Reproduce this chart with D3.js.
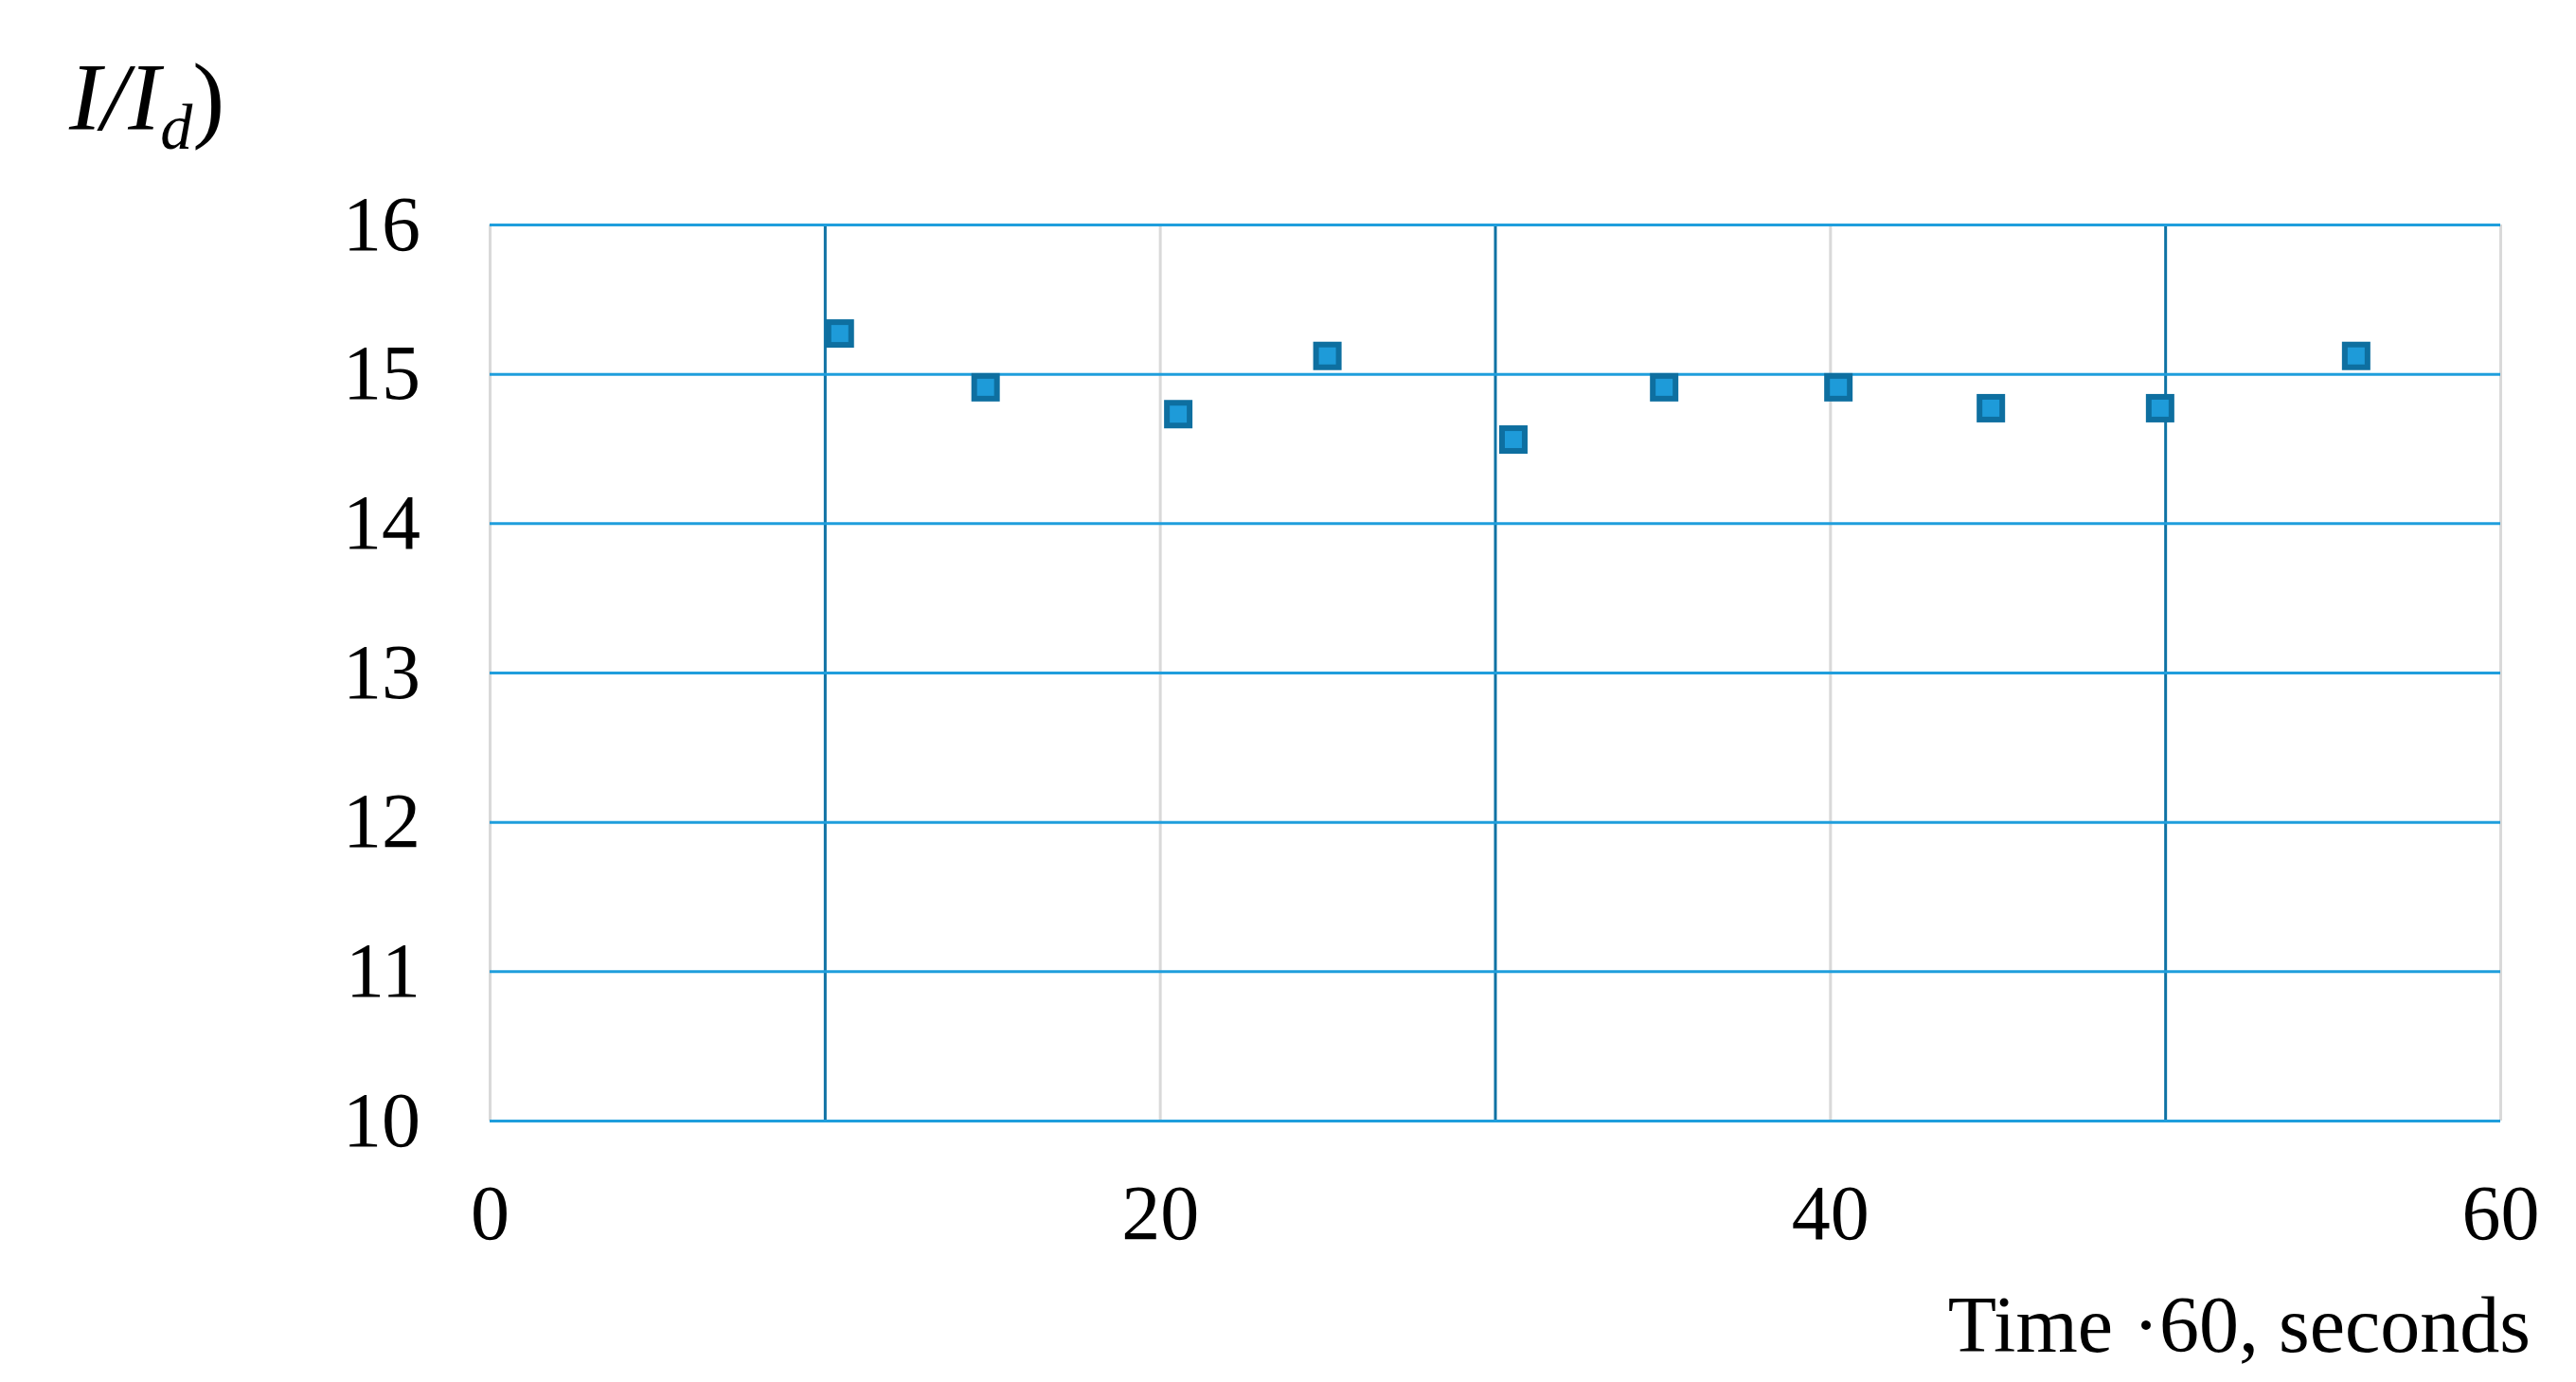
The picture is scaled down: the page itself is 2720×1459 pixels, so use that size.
<!DOCTYPE html>
<html>
<head>
<meta charset="utf-8">
<script src="https://cdn.jsdelivr.net/npm/d3@7"></script>
<style>
  body { margin: 0; background: #fff; }
  text { font-family: "Liberation Serif", "Times New Roman", serif; fill: #000; }
</style>
</head>
<body>
<div id="chart"></div>
<script>
// data
const timeValues = [10.45, 14.8, 20.55, 25.0, 30.55, 35.05, 40.25, 44.8, 49.85, 55.7];
const ratioValues = [15.27, 14.91, 14.73, 15.12, 14.56, 14.91, 14.91, 14.77, 14.77, 15.12];
const xTicks = [0, 20, 40, 60];
const xMinorLines = [10, 30, 50];
const yTicks = [10, 11, 12, 13, 14, 15, 16];
const xTitle = "Time \u00b760, seconds";

// chart dimensions
const width = 2720;
const height = 1459;
const marginLeft = 517;
const marginRight = 80;
const marginTop = 237;
const marginBottom = 276;
const markerSize = 24;

const points = timeValues.map((t, i) => ({ t: t, v: ratioValues[i] }));

const svg = d3.select("#chart").append("svg")
  .attr("width", width)
  .attr("height", height);

const x = d3.scaleLinear()
  .domain([0, 60])
  .range([marginLeft, width - marginRight]);

const y = d3.scaleLinear()
  .domain([10, 16])
  .range([height - marginBottom, marginTop]);

const plotH = y(10) - y(16);
const plotW = x(60) - x(0);

// minor vertical lines (dark blue)
svg.append("g")
  .attr("class", "xMinor")
  .attr("transform", `translate(0,${y(10)})`)
  .call(d3.axisBottom(x).tickValues(xMinorLines).tickSize(-plotH).tickFormat(""))
  .call(g => g.select(".domain").remove())
  .call(g => g.selectAll("line").attr("stroke", "#0E72A4").attr("stroke-width", 3));

// major vertical gridlines (grey)
svg.append("g")
  .attr("class", "xGrid")
  .attr("transform", `translate(0,${y(10)})`)
  .call(d3.axisBottom(x).tickValues(xTicks).tickSize(-plotH).tickFormat(""))
  .call(g => g.select(".domain").remove())
  .call(g => g.selectAll("line").attr("stroke", "#D9D9D9").attr("stroke-width", 3));

// horizontal gridlines (light blue)
svg.append("g")
  .attr("class", "yGrid")
  .attr("transform", `translate(${marginLeft},0)`)
  .call(d3.axisLeft(y).tickValues(yTicks).tickSize(-plotW).tickFormat(""))
  .call(g => g.select(".domain").remove())
  .call(g => g.selectAll("line").attr("stroke", "#1F9EDC").attr("stroke-width", 3));

// y axis labels
svg.append("g")
  .attr("class", "yAxis")
  .attr("transform", `translate(${marginLeft},0)`)
  .call(d3.axisLeft(y).tickValues(yTicks).tickFormat(d3.format("d")).tickSize(0).tickPadding(73))
  .call(g => g.select(".domain").remove())
  .call(g => g.selectAll("text")
    .attr("font-size", 82)
    .attr("font-family", "Liberation Serif")
    .attr("dy", "0.32em")
    .attr("fill", "#000"));

// x axis labels
svg.append("g")
  .attr("class", "xAxis")
  .attr("transform", `translate(0,${y(10)})`)
  .call(d3.axisBottom(x).tickValues(xTicks).tickFormat(d3.format("d")).tickSize(0))
  .call(g => g.select(".domain").remove())
  .call(g => g.selectAll("text")
    .attr("y", 125)
    .attr("dy", null)
    .attr("font-size", 82)
    .attr("font-family", "Liberation Serif")
    .attr("fill", "#000"));

// markers
svg.append("g")
  .attr("class", "points")
  .selectAll("rect")
  .data(points)
  .enter().append("rect")
    .attr("x", d => x(d.t) - markerSize / 2)
    .attr("y", d => y(d.v) - markerSize / 2)
    .attr("width", markerSize)
    .attr("height", markerSize)
    .attr("fill", "#1E9BD9")
    .attr("stroke", "#0E6FA0")
    .attr("stroke-width", 6);

// axis titles
svg.append("text")
  .attr("x", width - 48)
  .attr("y", 1427)
  .attr("text-anchor", "end")
  .attr("font-size", 84)
  .text(xTitle);

const yTitle = svg.append("text")
  .attr("x", 73)
  .attr("y", 137)
  .attr("font-size", 102)
  .attr("font-style", "italic");
yTitle.append("tspan").text("I/I");
yTitle.append("tspan").attr("font-size", 68).attr("dy", 20).text("d");
yTitle.append("tspan").attr("dy", -20).attr("font-style", "normal").text(")");
</script>
</body>
</html>
